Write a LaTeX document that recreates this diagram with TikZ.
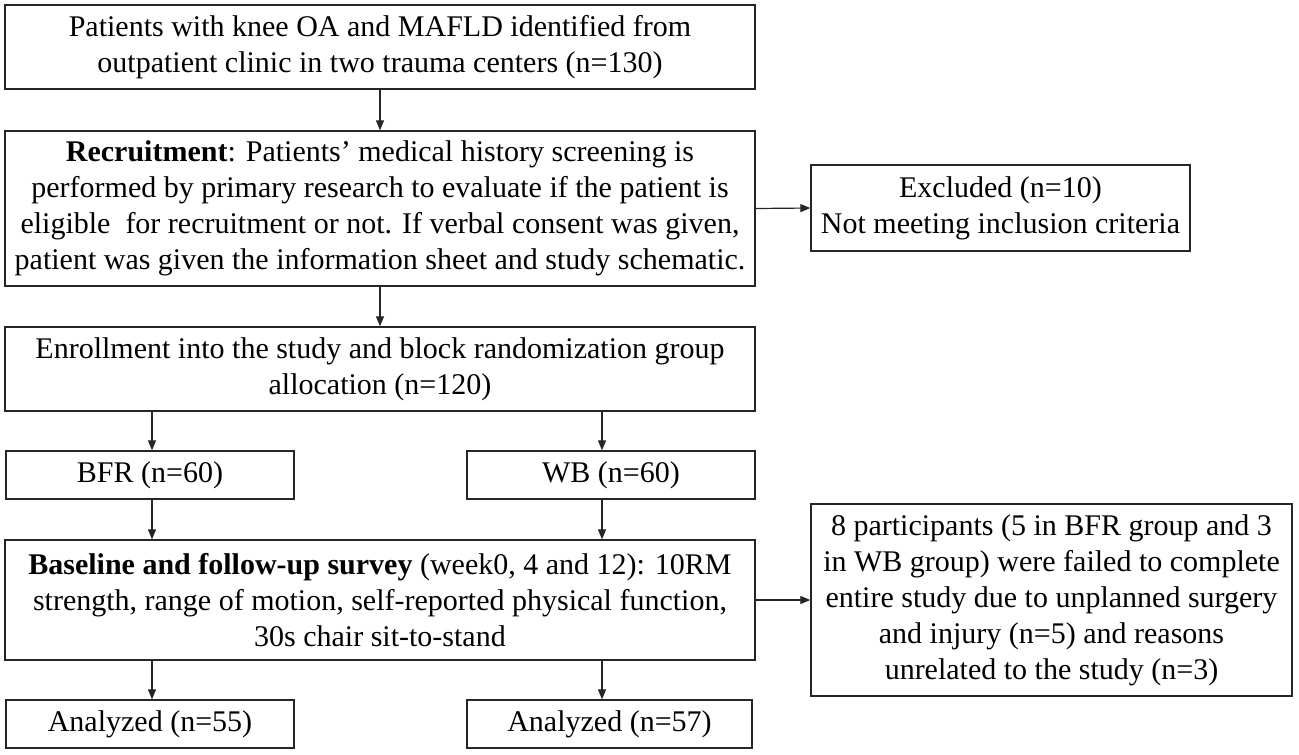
\documentclass[tikz,border=0pt]{standalone}
\usepackage{fontspec}
\setmainfont{Liberation Serif}
\usetikzlibrary{arrows.meta}
\begin{document}
\begin{tikzpicture}[x=1pt,y=-1pt,
  box/.style={draw=black!85, line width=1.3pt, inner sep=0pt, align=center,
    font=\fontsize{30}{36}\selectfont},
  arr/.style={draw=black!85, line width=1.2pt, -{Triangle[length=10pt,width=8pt]}}]
\useasboundingbox (0,0) rectangle (1299,755);
\node[box, minimum width=750pt, minimum height=84pt] (b1) at (380,47)
  {Patients with knee OA and MAFLD identified from\\outpatient clinic in two trauma centers (n=130)};
\node[box, minimum width=750pt, minimum height=155pt] (b2) at (380,208.5)
  {\textbf{Recruitment}: Patients’ medical history screening is\\performed by primary research to evaluate if the patient is\\eligible\ \ for recruitment or not. If verbal consent was given,\\patient was given the information sheet and study schematic.};
\node[box, minimum width=379pt, minimum height=86pt] (exc) at (1000.5,208)
  {Excluded (n=10)\\Not meeting inclusion criteria};
\node[box, minimum width=750pt, minimum height=84pt] (b3) at (380,369)
  {Enrollment into the study and block randomization group\\allocation (n=120)};
\node[box, minimum width=288pt, minimum height=48pt] (bfr) at (150,475) {BFR (n=60)};
\node[box, minimum width=288pt, minimum height=48pt] (wb) at (611,475) {WB (n=60)};
\node[box, minimum width=750pt, minimum height=120pt] (base) at (380,600)
  {\textbf{Baseline and follow-up survey} (week0, 4 and 12): 10RM\\strength, range of motion, self-reported physical function,\\30s chair sit-to-stand};
\node[box, minimum width=481pt, minimum height=192pt] (drop) at (1051.5,600)
  {8 participants (5 in BFR group and 3\\in WB group) were failed to complete\\entire study due to unplanned surgery\\and injury (n=5) and reasons\\unrelated to the study (n=3)};
\node[box, minimum width=288pt, minimum height=48pt] (an1) at (150,724) {Analyzed (n=55)};
\node[box, minimum width=285pt, minimum height=48pt] (an2) at (609.5,724) {Analyzed (n=57)};
\draw[arr] (b1) -- (b2);
\draw[arr] (b2.east) -- (exc.west);
\draw[arr] (b2) -- (b3);
\draw[arr] ([xshift=2pt]bfr.north |- b3.south) -- ([xshift=2pt]bfr.north);
\draw[arr] ([xshift=-9pt]wb.north |- b3.south) -- ([xshift=-9pt]wb.north);
\draw[arr] ([xshift=2pt]bfr.south) -- ([xshift=2pt]bfr.south |- base.north);
\draw[arr] ([xshift=-9pt]wb.south) -- ([xshift=-9pt]wb.south |- base.north);
\draw[arr] (base.east) -- (drop.west);
\draw[arr] ([xshift=2pt]an1.north |- base.south) -- ([xshift=2pt]an1.north);
\draw[arr] ([xshift=-7.5pt]an2.north |- base.south) -- ([xshift=-7.5pt]an2.north);
\end{tikzpicture}
\end{document}
